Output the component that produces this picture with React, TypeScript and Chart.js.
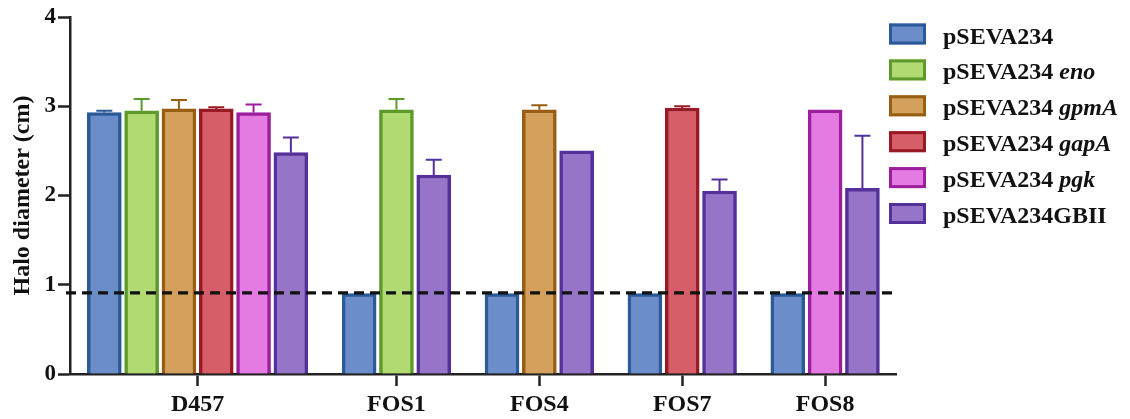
import React, { useEffect, useRef } from "react";
import { Chart, registerables } from "chart.js";

Chart.register(...registerables);

// ---- data ----
const groups = ["D457", "FOS1", "FOS4", "FOS7", "FOS8"];
const seriesPlain = ["pSEVA234", "pSEVA234 ", "pSEVA234 ", "pSEVA234 ", "pSEVA234 ", "pSEVA234GBII"];
const seriesItalic = ["", "eno", "gpmA", "gapA", "pgk", ""];

const pSEVA234 = [2.93, 0.9, 0.9, 0.9, 0.9];
const pSEVA234Err = [0.02, 0, 0, 0, 0];
const eno = [2.95, 2.96, null, null, null];
const enoErr = [0.13, 0.12, 0, 0, 0];
const gpmA = [2.97, null, 2.96, null, null];
const gpmAErr = [0.1, 0, 0.05, 0, 0];
const gapA = [2.97, null, null, 2.98, null];
const gapAErr = [0.02, 0, 0, 0.02, 0];
const pgk = [2.93, null, null, null, 2.96];
const pgkErr = [0.09, 0, 0, 0, 0];
const gbii = [2.48, 2.23, 2.5, 2.05, 2.08];
const gbiiErr = [0.17, 0.17, 0, 0.13, 0.59];

const threshold = 0.91;
const yTicks = [0, 1, 2, 3, 4];

// ---- styles ----
const fills = ["#6b8ecb", "#b1db72", "#d4a05e", "#d65e69", "#e37be3", "#9674c8"];
const borders = ["#2b5a99", "#5c9a2c", "#985e14", "#981a24", "#9c1e9c", "#54309a"];

const seriesValues = [pSEVA234, eno, gpmA, gapA, pgk, gbii];
const seriesErrs = [pSEVA234Err, enoErr, gpmAErr, gapAErr, pgkErr, gbiiErr];

const GROUP_GAP = 0.83;
const EDGE = 0.92;
const FONT = "'Liberation Serif', 'Times New Roman', serif";

function layoutPositions() {
  const pos: (number | null)[][] = seriesValues.map(() => groups.map(() => null));
  const centers: number[] = [];
  let cursor = 0;
  groups.forEach((_, g) => {
    const xs: number[] = [];
    seriesValues.forEach((vals, s) => {
      if (vals[g] !== null && vals[g] !== undefined) {
        pos[s][g] = cursor;
        xs.push(cursor);
        cursor += 1;
      }
    });
    centers.push(xs.reduce((a, b) => a + b, 0) / xs.length);
    cursor += GROUP_GAP;
  });
  const last = cursor - GROUP_GAP - 1;
  return { pos, centers, min: -EDGE, max: last + EDGE - 0.02 };
}

export default function App() {
  const ref = useRef<HTMLCanvasElement>(null);

  useEffect(() => {
    document.body.style.margin = "0";
    const { pos, centers, min, max } = layoutPositions();

    const datasets = seriesValues.map((vals, s) => ({
      label: seriesPlain[s] + seriesItalic[s],
      data: groups
        .map((_, g) => (vals[g] === null ? null : { x: pos[s][g] as number, y: vals[g] as number, err: seriesErrs[s][g] }))
        .filter((p) => p !== null),
      backgroundColor: fills[s],
      borderColor: borders[s],
      borderWidth: 3.5,
      borderSkipped: "start",
      grouped: false,
      barThickness: 34,
    }));

    const errorBars = {
      id: "errorBars",
      afterDatasetsDraw(chart: any) {
        const ctx = chart.ctx;
        const ys = chart.scales.y;
        chart.data.datasets.forEach((ds: any, di: number) => {
          const meta = chart.getDatasetMeta(di);
          meta.data.forEach((el: any, i: number) => {
            const p = ds.data[i];
            if (!p || !p.err) return;
            const top = ys.getPixelForValue(p.y);
            const ye = ys.getPixelForValue(p.y + p.err);
            ctx.save();
            ctx.strokeStyle = ds.borderColor;
            ctx.lineWidth = 2;
            ctx.beginPath();
            ctx.moveTo(el.x, top);
            ctx.lineTo(el.x, ye);
            ctx.moveTo(el.x - 8, ye);
            ctx.lineTo(el.x + 8, ye);
            ctx.stroke();
            ctx.restore();
          });
        });
      },
    };

    const dashLine = {
      id: "dashLine",
      afterDatasetsDraw(chart: any) {
        const ctx = chart.ctx;
        const y = chart.scales.y.getPixelForValue(threshold);
        const { left, right } = chart.chartArea;
        ctx.save();
        ctx.strokeStyle = "#111";
        ctx.lineWidth = 3.2;
        ctx.setLineDash([10, 6]);
        ctx.beginPath();
        ctx.moveTo(left - 4, y);
        ctx.lineTo(right - 4, y);
        ctx.stroke();
        ctx.restore();
      },
    };

    const legend = {
      id: "customLegend",
      afterDraw(chart: any) {
        const ctx = chart.ctx;
        const bx = chart.width - 241;
        const tx = chart.width - 187;
        seriesPlain.forEach((plain, s) => {
          const top = 23.5 + s * 35.9;
          ctx.save();
          ctx.fillStyle = fills[s];
          ctx.fillRect(bx, top, 37, 21);
          ctx.strokeStyle = borders[s];
          ctx.lineWidth = 3;
          ctx.strokeRect(bx + 1.5, top + 1.5, 34, 18);
          ctx.fillStyle = "#111";
          ctx.textBaseline = "alphabetic";
          ctx.textAlign = "left";
          ctx.font = `bold 24px ${FONT}`;
          ctx.fillText(plain, tx, top + 20);
          const w = ctx.measureText(plain).width;
          if (seriesItalic[s]) {
            ctx.font = `italic bold 24px ${FONT}`;
            ctx.fillText(seriesItalic[s], tx + w, top + 20);
          }
          ctx.restore();
        });
      },
    };

    const chart = new Chart(ref.current as HTMLCanvasElement, {
      type: "bar",
      data: { datasets: datasets as any },
      options: {
        animation: false,
        responsive: false,
        layout: { padding: { top: 17, right: 234, left: 0, bottom: 0 } },
        plugins: { legend: { display: false }, tooltip: { enabled: false } },
        scales: {
          x: {
            type: "linear",
            offset: false,
            min,
            max,
            afterFit: (s: any) => {
              s.height = 45;
            },
            afterBuildTicks: (s: any) => {
              s.ticks = centers.map((c) => ({ value: c }));
            },
            grid: { offset: false, drawOnChartArea: false, drawTicks: true, tickLength: 12, tickWidth: 2.5, tickColor: "#222" },
            border: { display: true, color: "#222", width: 2.5 },
            ticks: {
              autoSkip: false,
              maxRotation: 0,
              padding: 4,
              color: "#111",
              font: { family: FONT, size: 24, weight: "bold" },
              callback: (_v: any, i: number) => groups[i],
            },
          },
          y: {
            min: 0,
            max: 4,
            afterFit: (s: any) => {
              s.width = 70;
            },
            afterBuildTicks: (s: any) => {
              s.ticks = yTicks.map((v) => ({ value: v }));
            },
            grid: { drawOnChartArea: false, drawTicks: true, tickLength: 12, tickWidth: 2.5, tickColor: "#222" },
            border: { display: true, color: "#222", width: 2.5 },
            ticks: {
              padding: 2,
              color: "#111",
              font: { family: FONT, size: 23, weight: "bold" },
            },
            title: {
              display: true,
              text: "Halo diameter (cm)",
              color: "#111",
              font: { family: FONT, size: 24, weight: "bold" },
              padding: { top: 8, bottom: 0 },
            },
          },
        },
      } as any,
      plugins: [errorBars, dashLine, legend],
    });
    return () => chart.destroy();
  }, []);

  return (
    <div style={{ position: "fixed", left: 0, top: 0, width: 1130, height: 419, background: "#fff" }}>
      <canvas ref={ref} width={1130} height={419} />
    </div>
  );
}
